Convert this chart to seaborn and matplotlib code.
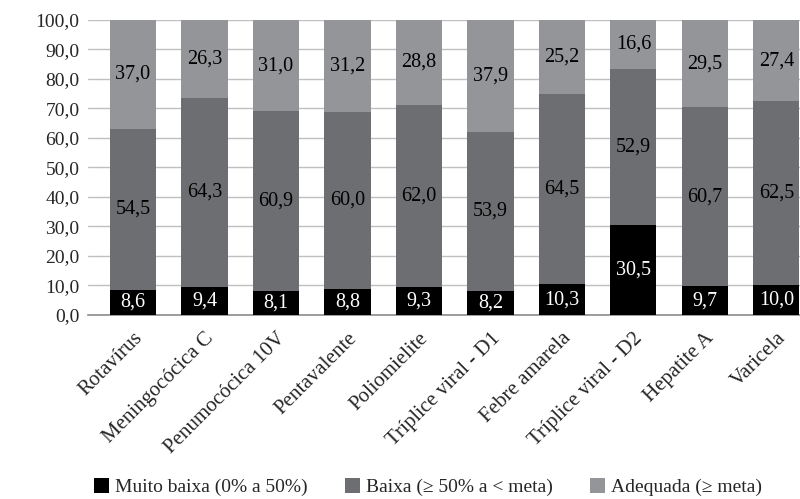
import pandas as pd
import seaborn as sns
import matplotlib.pyplot as plt
from matplotlib.patches import Patch

# Vaccines (categories) and the share of municipalities in each coverage class
vacinas = ["Rotavírus", "Meningocócica C", "Penumocócica 10V", "Pentavalente",
           "Poliomielite", "Tríplice viral - D1", "Febre amarela",
           "Tríplice viral - D2", "Hepatite A", "Varicela"]
muito_baixa = [8.6, 9.4, 8.1, 8.8, 9.3, 8.2, 10.3, 30.5, 9.7, 10.0]
baixa = [54.5, 64.3, 60.9, 60.0, 62.0, 53.9, 64.5, 52.9, 60.7, 62.5]
adequada = [37.0, 26.3, 31.0, 31.2, 28.8, 37.9, 25.2, 16.6, 29.5, 27.4]
series_names = ["Muito baixa (0% a 50%)", "Baixa (≥ 50% a < meta)", "Adequada (≥ meta)"]
yticks = [0, 10, 20, 30, 40, 50, 60, 70, 80, 90, 100]

cores = ["#000000", "#6d6e71", "#939598"]
txt_cores = ["white", "black", "black"]

sns.set_style("white")
plt.rcParams['font.family'] = ['Liberation Serif', 'DejaVu Serif']
plt.rcParams['font.size'] = 14

fig = plt.figure(figsize=(8, 4.99), dpi=100)
ax = fig.add_axes([0.11, 0.369, 0.89, 0.591])

df = pd.DataFrame({"vacina": vacinas, "mb": muito_baixa, "b": baixa, "a": adequada})
bottom = [0.0] * len(vacinas)
for col, cor, tcor in zip(["mb", "b", "a"], cores, txt_cores):
    sns.barplot(data=df, x="vacina", y=col, color=cor, bottom=bottom, width=0.645,
                ax=ax, saturation=1, linewidth=0, zorder=3)
    for i, v in enumerate(df[col]):
        ax.text(i, bottom[i] + v / 2, f"{v:.1f}".replace(".", ","),
                ha="center", va="center", color=tcor, fontsize=14.5, zorder=4)
    bottom = [b + v for b, v in zip(bottom, df[col])]

ax.set_ylim(0, 100)
ax.set_xlim(-0.63, 9.33)
ax.set_yticks(yticks)
ax.set_yticklabels([f"{t:.1f}".replace(".", ",") for t in yticks], fontsize=14)
ax.yaxis.grid(True, color="#c0c0c0", linewidth=1, zorder=0)
ax.set_xlabel("")
ax.set_ylabel("")
ax.tick_params(axis="y", length=0, pad=6)
ax.tick_params(axis="x", length=0, pad=10)
plt.setp(ax.get_xticklabels(), rotation=45, ha="right", rotation_mode="anchor", fontsize=15)
for s in ["top", "right", "left"]:
    ax.spines[s].set_visible(False)
ax.spines["bottom"].set_color("#8c8c8c")
ax.spines["bottom"].set_linewidth(1.2)

handles = [Patch(facecolor=c, edgecolor="none") for c in cores]
fig.legend(handles, series_names, loc="lower center", bbox_to_anchor=(0.535, -0.03),
           ncol=3, frameon=False, fontsize=14, handlelength=0.8, handleheight=0.8,
           handletextpad=0.3, columnspacing=1.9)

plt.savefig("out.png", dpi=100)
